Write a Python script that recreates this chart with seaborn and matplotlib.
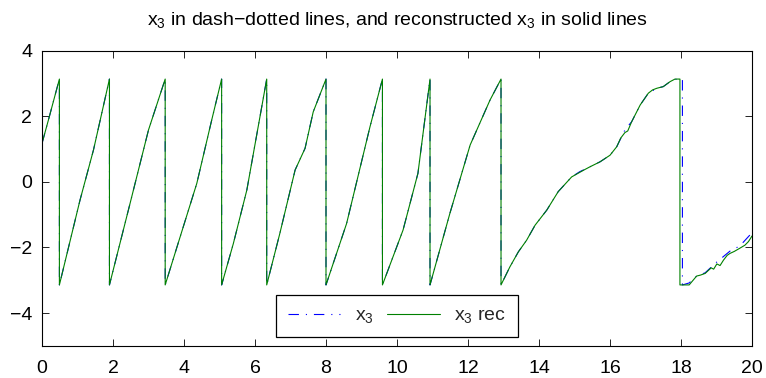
import numpy as np
import pandas as pd
import matplotlib
matplotlib.use("Agg")
import matplotlib.pyplot as plt
import seaborn as sns

# ---- data ----
t_x3 = [0.00, 0.18, 0.49, 0.49, 1.07, 1.45, 1.90, 1.90, 2.48, 3.00, 3.47, 3.47,
        3.89, 4.36, 4.78, 5.06, 5.06, 5.39, 5.77, 6.33, 6.33, 6.70, 7.13, 7.41,
        7.64, 8.00, 8.00, 8.58, 9.24, 9.59, 9.59, 10.17, 10.59, 10.93, 10.93,
        11.49, 12.06, 12.62, 12.93, 12.93, 13.18, 13.42, 13.65, 13.89, 14.22,
        14.54, 14.92, 15.15, 15.44, 15.72, 16.00, 16.19, 16.42, 16.61, 16.85,
        17.08, 17.32, 17.50, 17.69, 17.83, 18.04, 18.04, 18.23, 18.44, 18.68,
        19.01, 19.38, 19.66, 20.00]
x3 = [1.17, 1.88, 3.13, -3.14, -0.56, 0.97, 3.13, -3.14, -0.66, 1.58, 3.13, -3.14,
      -1.68, -0.05, 1.88, 3.13, -3.14, -1.88, -0.25, 3.13, -3.14, -1.57, 0.36, 1.02,
      2.13, 3.13, -3.14, -1.27, 1.68, 3.13, -3.14, -1.47, 0.26, 3.13, -3.14,
      -0.96, 1.12, 2.49, 3.13, -3.14, -2.59, -2.13, -1.78, -1.32, -0.86,
      -0.30, 0.15, 0.31, 0.46, 0.61, 0.81, 1.07, 1.58, 1.83, 2.34,
      2.70, 2.85, 2.90, 3.05, 3.12, 3.13, -3.14, -3.08, -2.87, -2.77,
      -2.44, -2.11, -1.95, -1.55]

t_rec = [0.00, 0.18, 0.49, 0.49, 1.07, 1.45, 1.90, 1.90, 2.48, 3.00, 3.47, 3.47,
         3.89, 4.36, 4.78, 5.06, 5.06, 5.39, 5.77, 6.33, 6.33, 6.70, 7.13, 7.41,
         7.64, 8.00, 8.00, 8.58, 9.24, 9.59, 9.59, 10.17, 10.59, 10.93, 10.93,
         11.49, 12.06, 12.62, 12.93, 12.93, 13.18, 13.42, 13.65, 13.89, 14.22,
         14.54, 14.92, 15.15, 15.30, 15.44, 15.72, 16.00, 16.19, 16.30, 16.42,
         16.50, 16.61, 16.85, 17.08, 17.20, 17.32, 17.50, 17.69, 17.83, 17.97,
         17.97, 18.23, 18.44, 18.55, 18.68, 18.85, 18.92, 19.01, 19.10, 19.20,
         19.30, 19.38, 19.50, 19.66, 19.80, 19.90, 20.00]
x3_rec = [1.17, 1.88, 3.13, -3.14, -0.56, 0.97, 3.13, -3.14, -0.66, 1.58, 3.13, -3.14,
          -1.68, -0.05, 1.88, 3.13, -3.14, -1.88, -0.25, 3.13, -3.14, -1.57, 0.36, 1.02,
          2.13, 3.13, -3.14, -1.27, 1.68, 3.13, -3.14, -1.47, 0.26, 3.13, -3.14,
          -0.96, 1.12, 2.49, 3.13, -3.14, -2.59, -2.13, -1.78, -1.32, -0.86,
          -0.30, 0.15, 0.29, 0.38, 0.46, 0.61, 0.81, 1.07, 1.33, 1.50,
          1.55, 1.83, 2.34, 2.70, 2.80, 2.85, 2.90, 3.05, 3.13, 3.13,
          -3.14, -3.14, -2.87, -2.84, -2.79, -2.62, -2.66, -2.50, -2.55, -2.38,
          -2.24, -2.18, -2.12, -2.02, -1.93, -1.82, -1.65]

x_ticks = [0, 2, 4, 6, 8, 10, 12, 14, 16, 18, 20]
y_ticks = [-4, -2, 0, 2, 4]
title_text = r"$\mathregular{x_3}$ in dash−dotted lines, and reconstructed $\mathregular{x_3}$ in solid lines"
labels = [r"$\mathregular{x_3}$", r"$\mathregular{x_3}$ rec"]

# ---- style ----
sns.set_theme(style="white")
plt.rcParams["font.family"] = ["Liberation Sans", "DejaVu Sans"]
plt.rcParams["mathtext.default"] = "regular"
plt.rcParams["lines.scale_dashes"] = False

fig = plt.figure(figsize=(7.66, 3.78), dpi=100)
ax = fig.add_axes([42 / 766, 1 - 346 / 378, 710 / 766, 295.5 / 378])

df1 = pd.DataFrame({"t": t_x3, "v": x3})
df2 = pd.DataFrame({"t": t_rec, "v": x3_rec})
sns.lineplot(data=df1, x="t", y="v", ax=ax, estimator=None, sort=False,
             color=(0, 0, 1), linewidth=0.8)
sns.lineplot(data=df2, x="t", y="v", ax=ax, estimator=None, sort=False,
             color=(0, 0.5, 0), linewidth=0.8)
l1, l2 = ax.lines[0], ax.lines[1]
l1.set_dashes([7.5, 5.0, 0.8, 5.0])

ax.set_xlim(0, 20)
ax.set_ylim(-5, 4)
ax.set_xticks(x_ticks)
ax.set_yticks(y_ticks)
ax.set_xlabel("")
ax.set_ylabel("")
for s in ax.spines.values():
    s.set_color("black")
    s.set_linewidth(0.8)
ax.tick_params(direction="in", length=5, width=0.6, color="black",
               top=True, right=True, bottom=True, left=True,
               labelsize=14, labelcolor="black")
ax.tick_params(axis="x", pad=10)
ax.tick_params(axis="y", pad=7)

ax.set_title(title_text, fontsize=14, pad=18, color="black")

leg = ax.legend([l1, l2], labels, loc="lower center", ncol=2,
                bbox_to_anchor=(0.5, 9 / 295.5), frameon=True, fancybox=False,
                framealpha=1, edgecolor="black", fontsize=14,
                handlelength=2.7, handletextpad=0.75, columnspacing=0.7,
                borderpad=0.6, borderaxespad=0)
leg.get_frame().set_linewidth(0.9)

fig.savefig("out.png", dpi=100)
